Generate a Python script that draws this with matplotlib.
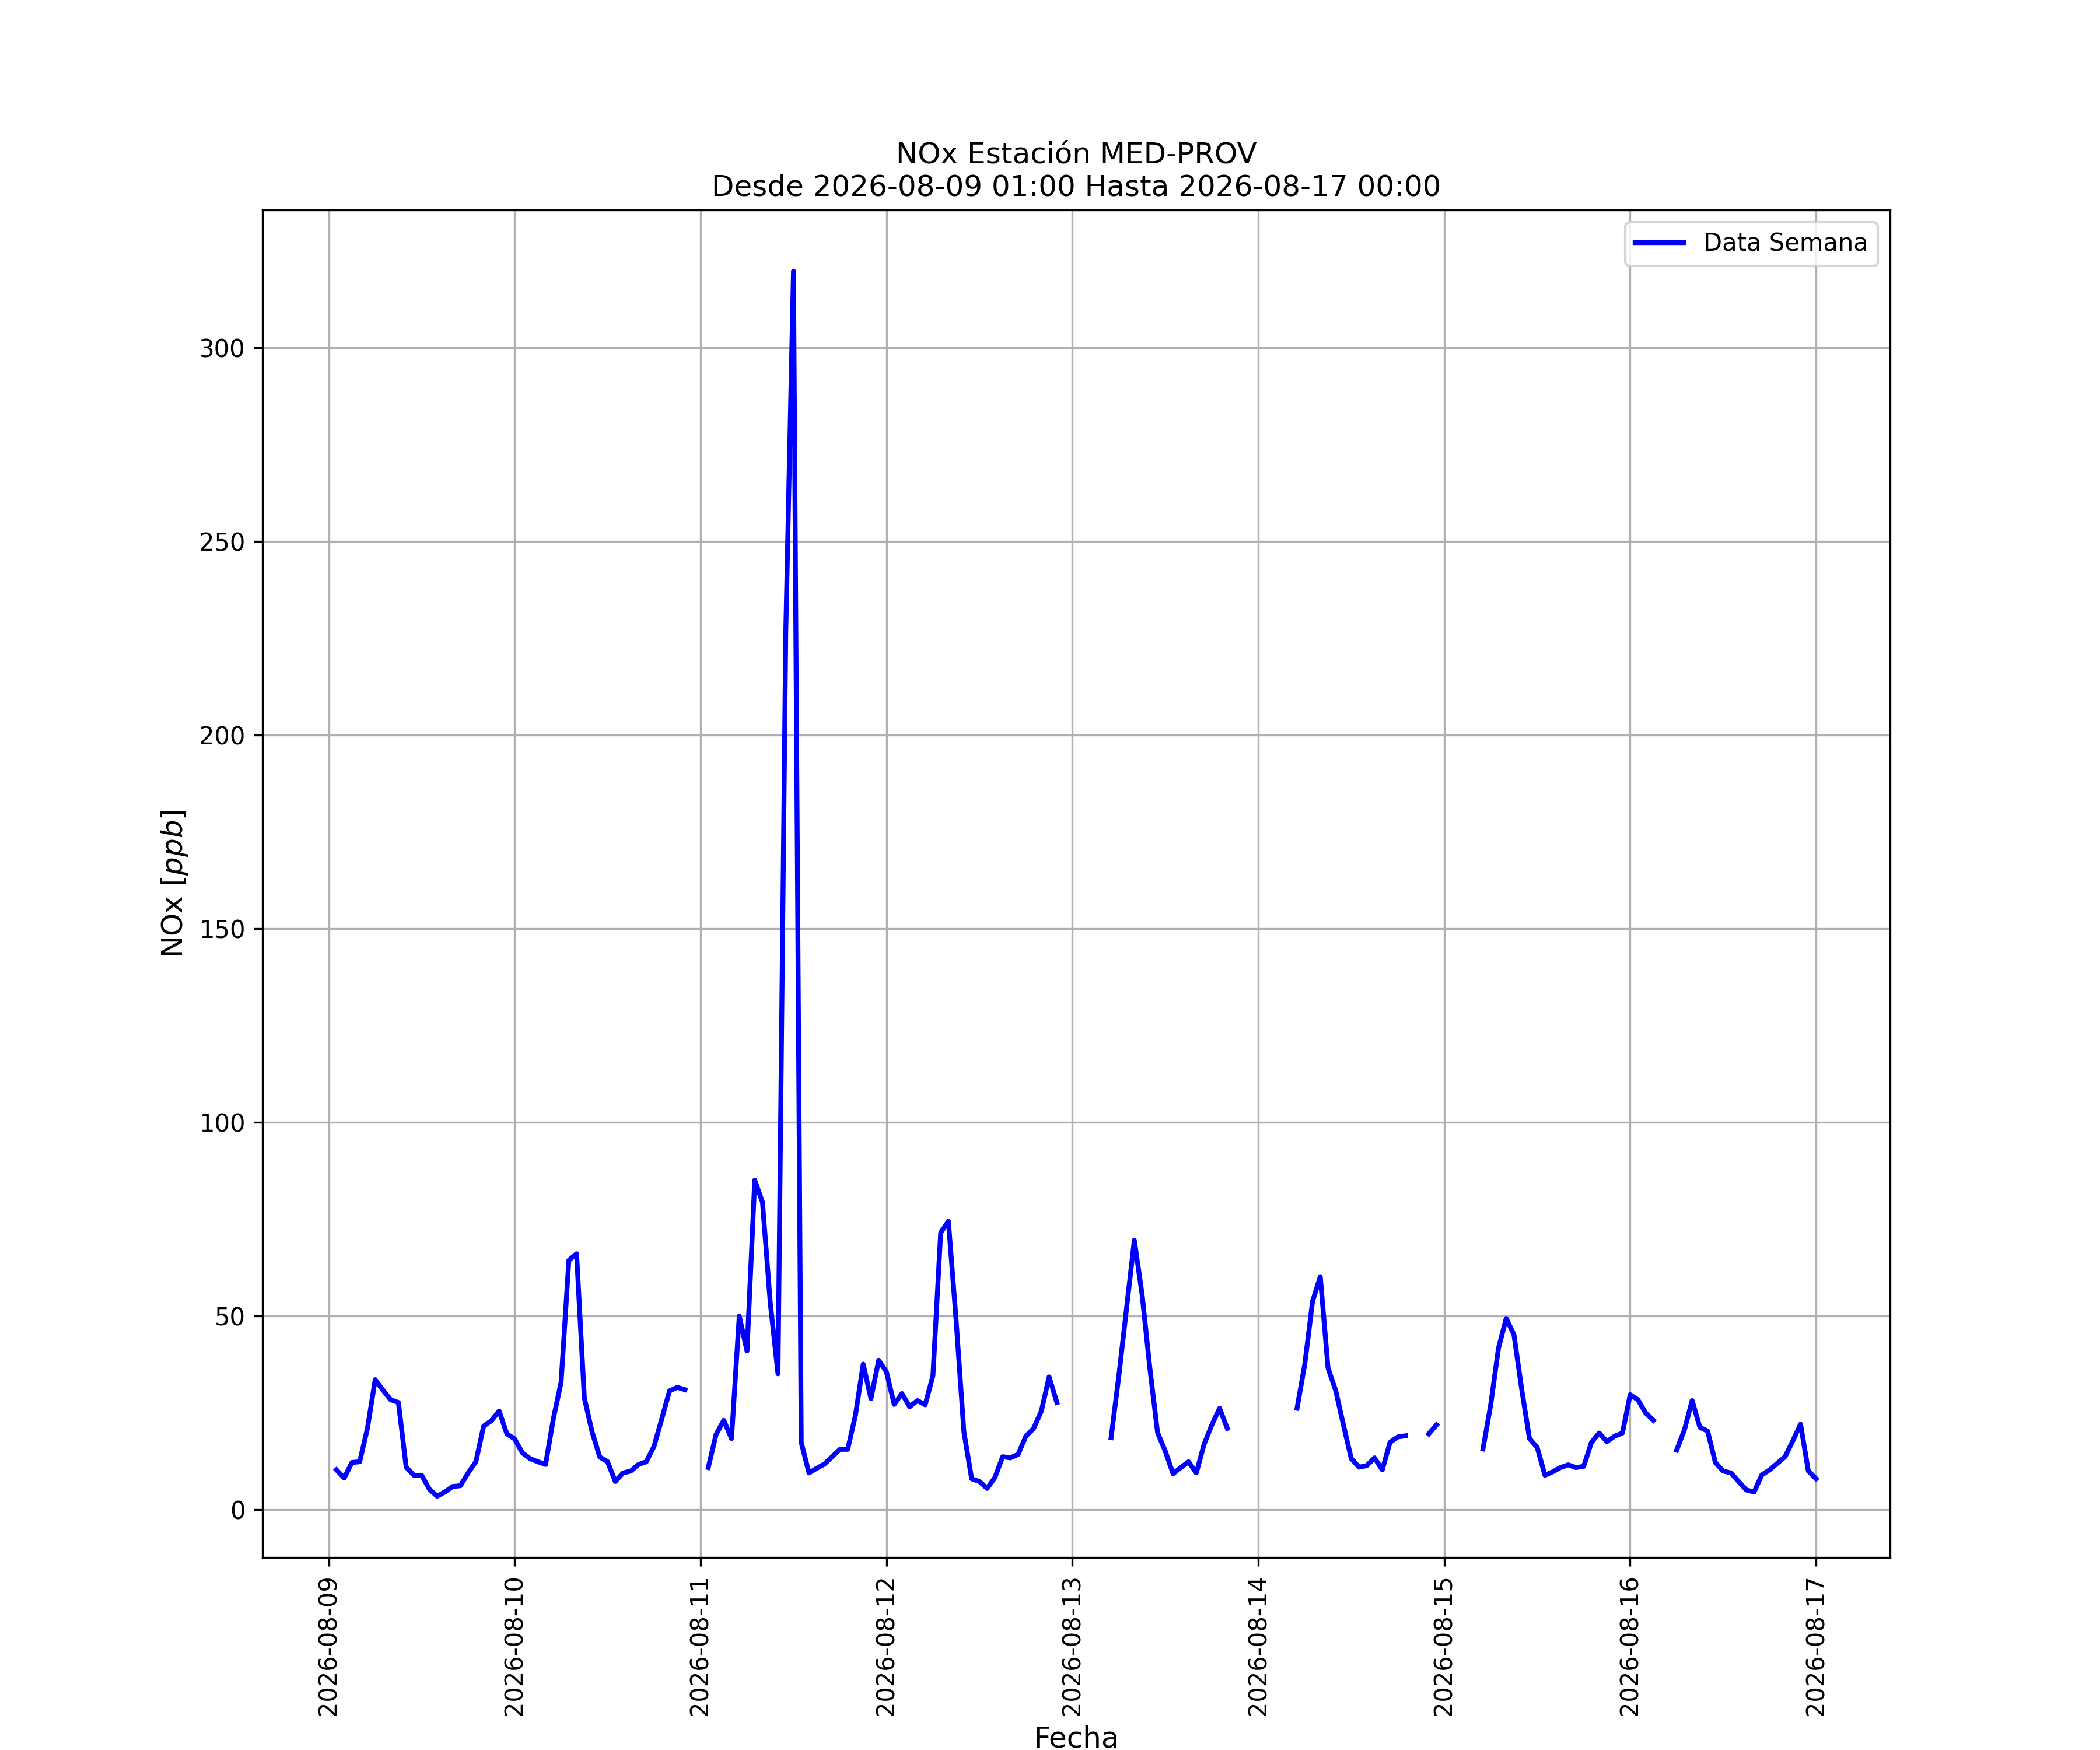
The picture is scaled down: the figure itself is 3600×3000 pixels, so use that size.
import numpy as np
import pandas as pd
import matplotlib
matplotlib.use("Agg")
import matplotlib.pyplot as plt
import matplotlib.dates as mdates

nan = np.nan

# Hourly NOx values (ppb), one list per day, hours 00..23 (day 9 starts at 01:00)
dia_09 = [10.2, 8.1, 12.1, 12.3, 20.9, 33.5, 30.8, 28.3, 27.6, 10.9, 8.8, 8.8,
          5.2, 3.4, 4.5, 5.9, 6.1, 9.4, 12.3, 21.5, 22.9, 25.4, 19.5]
dia_10 = [18.2, 14.6, 13.1, 12.3, 11.6, 23.4, 32.8, 64.3, 66.0, 28.8, 20.0, 13.5,
          12.3, 7.2, 9.4, 9.9, 11.6, 12.3, 16.3, 23.4, 30.6, 31.5, 30.9, nan]
dia_11 = [nan, 10.8, 19.3, 23.0, 18.3, 49.9, 40.9, 85.0, 79.3, 53.4, 35.0, 226.0,
          319.7, 17.3, 9.4, 10.6, 11.7, 13.6, 15.5, 15.5, 24.3, 37.5, 28.6, 38.5]
dia_12 = [35.5, 27.1, 29.9, 26.5, 28.1, 27.0, 34.5, 71.4, 74.4, 48.7, 20.0, 7.9,
          7.2, 5.4, 8.2, 13.6, 13.3, 14.2, 18.9, 20.9, 25.4, 34.2, 27.6, nan]
dia_13 = [nan, nan, nan, nan, nan, 18.5, 34.5, 52.0, 69.5, 55.5, 36.5, 19.8,
          15.0, 9.2, 10.8, 12.3, 9.4, 16.8, 21.8, 26.1, 20.9, nan, nan, nan]
dia_14 = [nan, nan, nan, nan, nan, 26.1, 37.5, 53.7, 60.1, 36.5, 30.6, 21.7,
          13.1, 10.9, 11.3, 13.3, 10.2, 17.3, 18.7, 19.0, nan, nan, 19.5, 21.8]
dia_15 = [nan, nan, nan, nan, nan, 15.6, 27.0, 41.6, 49.3, 45.1, 31.0, 18.3,
          16.0, 8.8, 9.7, 10.8, 11.5, 10.8, 11.1, 17.3, 19.7, 17.5, 18.9, 19.7]
dia_16 = [29.6, 28.3, 24.9, 23.0, nan, nan, 15.3, 20.5, 28.1, 21.2, 20.2, 12.1,
          9.9, 9.4, 7.2, 5.0, 4.5, 8.9, 10.2, 11.9, 13.6, 17.7, 22.0, 9.9]
dia_17 = [7.9]

valores = dia_09 + dia_10 + dia_11 + dia_12 + dia_13 + dia_14 + dia_15 + dia_16 + dia_17
fechas = pd.date_range("2026-08-09 01:00", periods=len(valores), freq="h")

fig = plt.figure(figsize=(12, 10), dpi=300)
ax = fig.add_subplot(111)

ax.plot(fechas, valores, color="blue", linewidth=2, label="Data Semana")

ax.xaxis.set_major_locator(mdates.DayLocator())
ax.xaxis.set_major_formatter(mdates.DateFormatter("%Y-%m-%d"))
plt.setp(ax.get_xticklabels(), rotation=90)

ax.grid(True)
ax.set_xlabel("Fecha", fontsize=12)
ax.set_ylabel("NOx [$ppb$]", fontsize=12)
ax.set_title("NOx Estación MED-PROV\nDesde 2026-08-09 01:00 Hasta 2026-08-17 00:00", fontsize=12)
ax.legend(loc="upper right")

fig.savefig("out.png", dpi=300)
